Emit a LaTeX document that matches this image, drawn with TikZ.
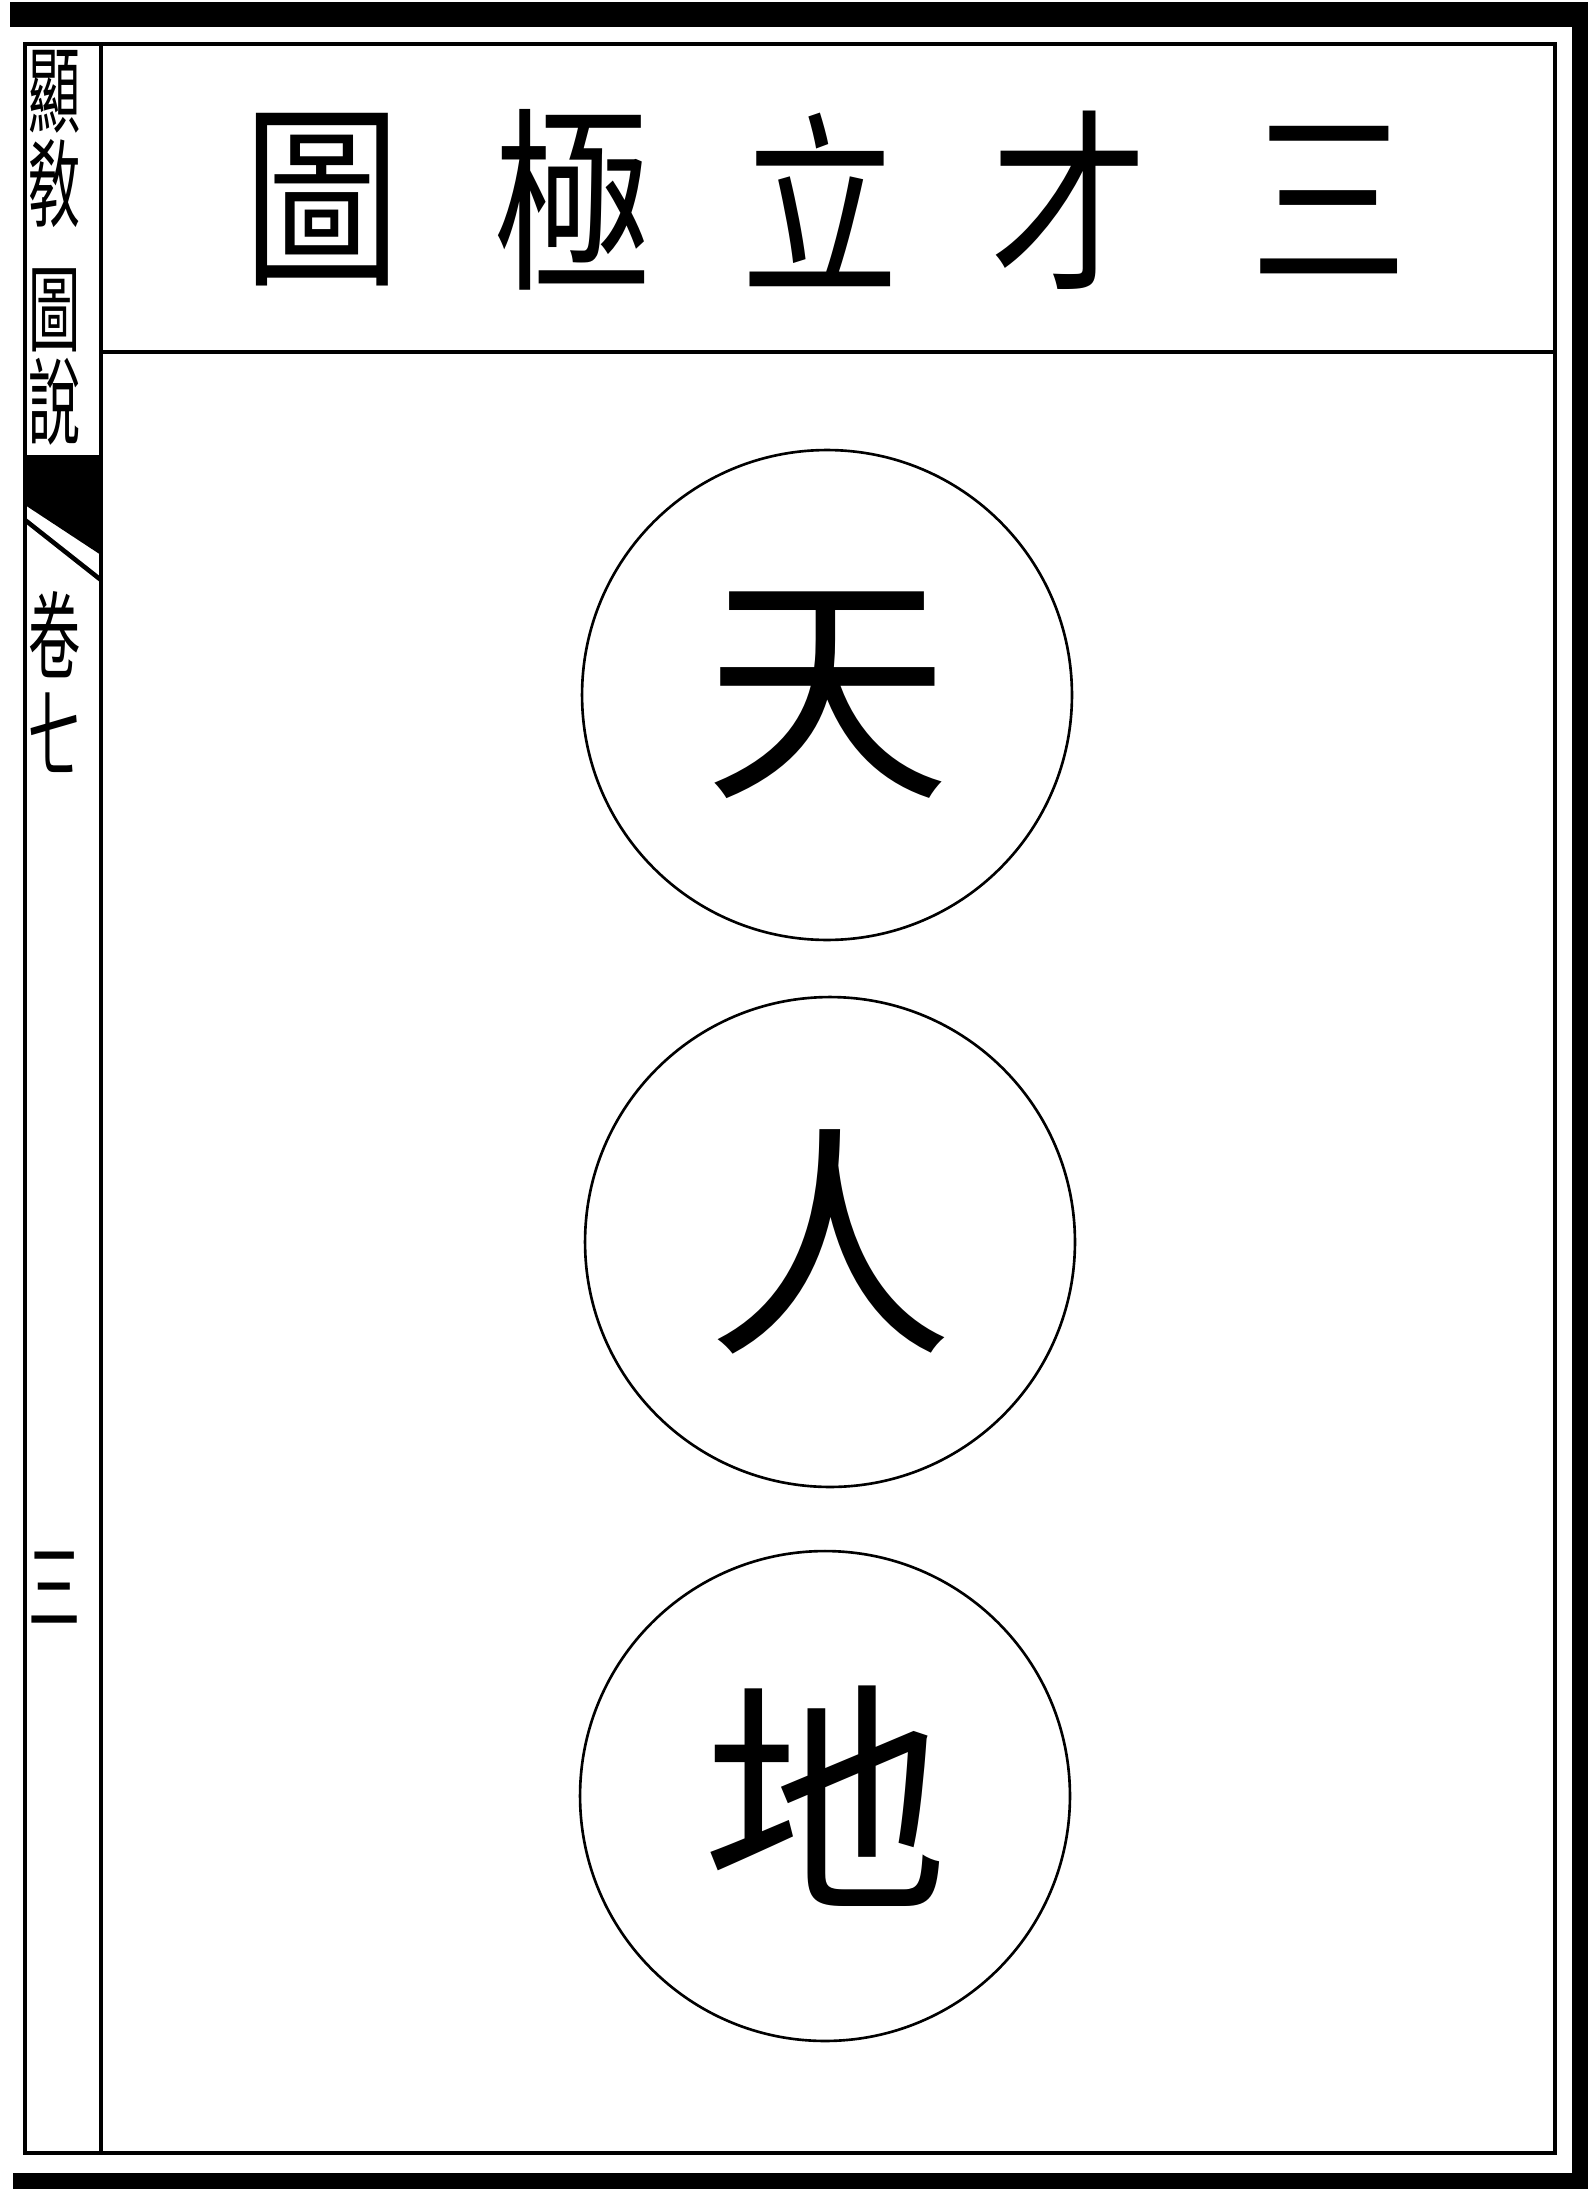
\documentclass[tikz,border=0pt]{standalone}
\usepackage{fontspec}
\usepackage{graphicx}
\usepackage{tikz}
\newfontfamily\cjk{Noto Sans CJK TC}
\newcommand{\narrow}[1]{\scalebox{0.8}[1]{#1}}
\newcommand{\slim}[1]{\scalebox{0.55}[1]{#1}}

\begin{document}
\begin{tikzpicture}[x=0.02cm, y=-0.02cm,
    rule/.style={line width=2.2pt, black},
    ring/.style={draw, circle, line width=1.5pt, minimum size=9.8cm, inner sep=0pt,
      font=\cjk\fontsize{140pt}{140pt}\selectfont},
    title/.style={inner sep=0pt, font=\cjk\fontsize{112pt}{112pt}\selectfont},
    side/.style={inner sep=0pt, font=\cjk\fontsize{54pt}{54pt}\selectfont}]
  \useasboundingbox (0,0) rectangle (1588,2189);
  % black page edges
  \fill[black] (10,2) rectangle (1588,27);
  \fill[black] (1572,2) rectangle (1588,2189);
  \fill[black] (13,2173) rectangle (1588,2189);
  % frame and title band
  \draw[rule] (25,44) rectangle (1555,2153);
  \draw[rule] (101,44) -- (101,2153);
  \draw[rule] (101,352) -- (1555,352);
  % title, read right to left
  \node[title] (san) at (1329,200) {\narrow{三}};
  \node[title] (cai) at (1069,200) {\narrow{才}};
  \node[title] (li)  at (820,200)  {\narrow{立}};
  \node[title] (ji)  at (572,200)  {\narrow{極}};
  \node[title] (tu)  at (322,200)  {\narrow{圖}};
  % the three powers
  \node[ring] (tian) at (827,695)  {天};
  \node[ring] (ren)  at (830,1242) {人};
  \node[ring] (di)   at (825,1796) {地};
  % margin column
  \node[side] (m1) at (55,92)   {\slim{顯}};
  \node[side] (m2) at (55,184)  {\slim{敎}};
  \node[side] (m3) at (55,310)  {\slim{圖}};
  \node[side] (m4) at (55,402)  {\slim{說}};
  \node[side] (m5) at (55,635)  {\slim{卷}};
  \node[side] (m6) at (55,733)  {\slim{七}};
  \node[side] (m7) at (55,1588) {\slim{三}};
  % fish tail mark
  \fill[black] (25,455) -- (101,455) -- (101,555) -- (25,505) -- cycle;
  \draw[line width=2.6pt] (25,520) -- (101,580);
\end{tikzpicture}
\end{document}
